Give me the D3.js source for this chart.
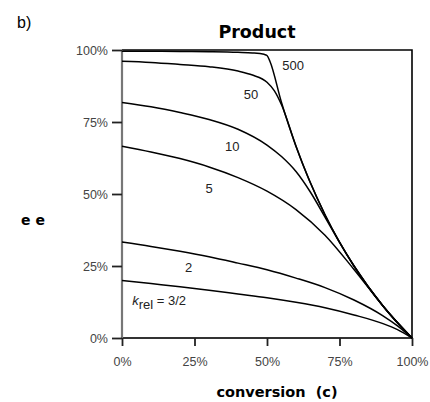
<!DOCTYPE html>
<html>
<head>
<meta charset="utf-8">
<script src="https://cdn.jsdelivr.net/npm/d3@7"></script>
<style>
  body { margin: 0; background: #fff; }
  svg { font-family: "Liberation Sans", Arial, sans-serif; }
</style>
</head>
<body>
<div id="chart"></div>
<script>
// values (conversion c, product ee), both as fractions
const krel15 = [[0, .200], [.1, .189], [.2, .178], [.3, .166], [.4, .153], [.5, .140], [.6, .124], [.7, .105], [.8, .080], [.9, .050], [.95, .029], [1, 0]];
const krel2 = [[0, .333], [.1, .318], [.2, .301], [.3, .282], [.4, .260], [.5, .237], [.6, .208], [.7, .175], [.8, .132], [.9, .077], [.95, .042], [1, 0]];
const krel5 = [[0, .666], [.1, .646], [.2, .623], [.3, .594], [.4, .557], [.5, .510], [.6, .446], [.7, .357], [.8, .238], [.9, .111], [.95, .052], [1, 0]];
const krel10 = [[0, .818], [.1, .803], [.2, .783], [.3, .759], [.4, .725], [.5, .670], [.55, .630], [.6, .578], [.65, .506], [.7, .420], [.75, .332], [.8, .250], [.9, .111], [1, 0]];
const krel50 = [[0, .961], [.1, .957], [.2, .950], [.3, .942], [.4, .927], [.45, .913], [.5, .888], [.525, .859], [.55, .810], [.6, .666], [.65, .538], [.7, .428], [.75, .333], [.8, .250], [.9, .111], [1, 0]];
const krel500 = [[0, .996], [.2, .995], [.3, .994], [.4, .992], [.45, .990], [.49, .985], [.5, .981], [.51, .961], [.55, .818], [.6, .666], [.7, .428], [.8, .250], [.9, .111], [1, 0]];

const curveLabels = [
  { text: "500", c: .590, ee: .945 },
  { text: "50", c: .445, ee: .845 },
  { text: "10", c: .380, ee: .665 },
  { text: "5", c: .300, ee: .520 },
  { text: "2", c: .230, ee: .245 }
];
const tickValues = [0, .25, .5, .75, 1];

const width = 430, height = 402;
const margin = { left: 122, right: 18, top: 50, bottom: 64 };

const svg = d3.select("#chart").append("svg")
  .attr("width", width)
  .attr("height", height);

const x = d3.scaleLinear().domain([0, 1]).range([margin.left, width - margin.right]);
const y = d3.scaleLinear().domain([0, 1]).range([height - margin.bottom, margin.top]);

// frame: top and right in black
svg.append("path")
  .attr("d", `M${x(0)},${y(1)}H${x(1)}V${y(0)}`)
  .attr("fill", "none")
  .attr("stroke", "#000")
  .attr("stroke-width", 1.6);

// axes
const xAxis = svg.append("g")
  .attr("transform", `translate(0,${y(0)})`)
  .call(d3.axisBottom(x).tickValues(tickValues).tickFormat(d3.format(".0%")).tickSize(8).tickPadding(11));
const yAxis = svg.append("g")
  .attr("transform", `translate(${x(0)},0)`)
  .call(d3.axisLeft(y).tickValues(tickValues).tickFormat(d3.format(".0%")).tickSize(10).tickPadding(4));

[xAxis, yAxis].forEach(g => {
  g.selectAll(".tick line").attr("stroke", "#222").attr("stroke-width", 1.8);
  g.selectAll(".tick text")
    .attr("font-family", "Liberation Sans, Arial, sans-serif")
    .attr("font-size", 12.5)
    .attr("fill", "#444");
});
// domains without the outer ticks; the left one is grey
xAxis.select(".domain").attr("d", `M${x(0)},0H${x(1)}`).attr("stroke", "#333").attr("stroke-width", 2);
yAxis.select(".domain").attr("d", `M0,${y(0)}V${y(1)}`).attr("stroke", "#777").attr("stroke-width", 2.2);

// curves
const line = d3.line()
  .x(d => x(d[0]))
  .y(d => y(d[1]))
  .curve(d3.curveMonotoneX);

const series = [krel15, krel2, krel5, krel10, krel50, krel500];
svg.selectAll("path.curve")
  .data(series)
  .join("path")
  .attr("class", "curve")
  .attr("d", line)
  .attr("fill", "none")
  .attr("stroke", "#000")
  .attr("stroke-width", 1.5);

// curve labels
svg.selectAll("text.clabel")
  .data(curveLabels)
  .join("text")
  .attr("class", "clabel")
  .attr("x", d => x(d.c))
  .attr("y", d => y(d.ee))
  .attr("text-anchor", "middle")
  .attr("dominant-baseline", "central")
  .attr("font-size", 13)
  .attr("fill", "#222")
  .text(d => d.text);

const kLabel = svg.append("text")
  .attr("x", x(0.035))
  .attr("y", y(0.115))
  .attr("font-size", 13)
  .attr("fill", "#222");
kLabel.append("tspan").attr("font-style", "italic").text("k");
kLabel.append("tspan").attr("dy", 4).text("rel");
kLabel.append("tspan").attr("dy", -4).text(" = 3/2");

// titles
svg.append("text")
  .attr("x", 17).attr("y", 28)
  .attr("font-size", 16)
  .text("b)");

svg.append("text")
  .attr("x", 257).attr("y", 38)
  .attr("text-anchor", "middle")
  .attr("font-family", "DejaVu Sans, sans-serif")
  .attr("font-size", 17.5)
  .attr("font-weight", "bold")
  .text("Product");

svg.append("text")
  .attr("x", 33).attr("y", 225)
  .attr("text-anchor", "middle")
  .attr("font-family", "DejaVu Sans, sans-serif")
  .attr("font-size", 14)
  .attr("font-weight", "bold")
  .text("e e");

svg.append("text")
  .attr("x", 277).attr("y", 397)
  .attr("text-anchor", "middle")
  .attr("font-family", "DejaVu Sans, sans-serif")
  .attr("font-size", 14.5)
  .attr("font-weight", "bold")
  .attr("xml:space", "preserve")
  .text("conversion  (c)");
</script>
</body>
</html>
